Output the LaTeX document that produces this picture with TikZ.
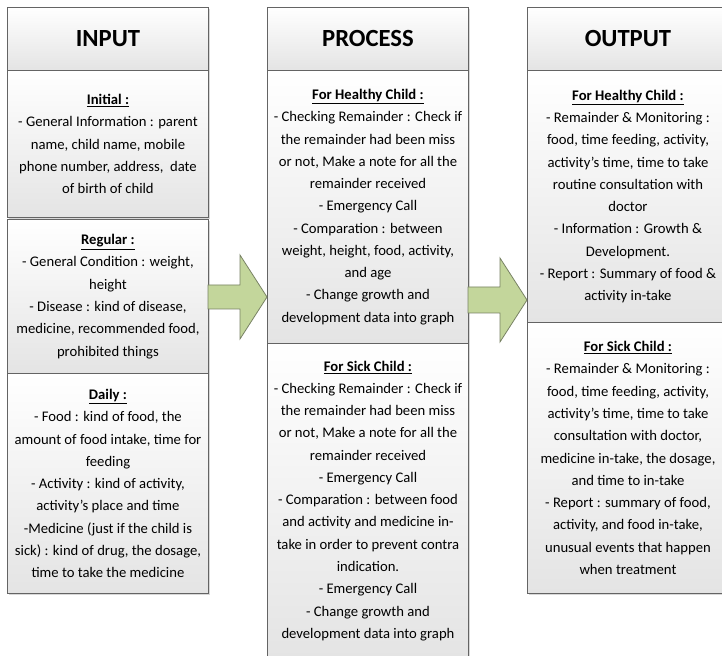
\documentclass[tikz,border=0pt]{standalone}
\usepackage{xcolor}
\usepackage{fontspec}
\setmainfont{Carlito}
\usepackage{tikz}
\usetikzlibrary{shadows}

\definecolor{boxline}{RGB}{100,100,100}
\definecolor{boxgray}{RGB}{228,228,228}
\definecolor{arrowgreen}{RGB}{195,214,155}
\definecolor{arrowline}{RGB}{120,130,100}

\tikzset{
  colbox/.style={draw=boxline, line width=0.7pt, top color=white, bottom color=boxgray,
    minimum width=150.75pt, inner sep=0pt, anchor=north west, align=center,
    font=\fontsize{11}{16.7}\selectfont,
    drop shadow={shadow xshift=1.3pt, shadow yshift=-1.3pt, fill=black!30}},
  headbox/.style={colbox, minimum height=47.25pt, font=\bfseries\fontsize{18.5}{22}\selectfont},
  greenarrow/.style={draw=arrowline, fill=arrowgreen, line width=0.6pt, line join=miter}
}

\newcommand{\boxtitle}[1]{\textbf{\underline{#1}}}

\begin{document}
\begin{tikzpicture}[x=0.75pt,y=-0.75pt]
    \useasboundingbox (0,0) rectangle (722,656);
    \fill[white] (0,0) rectangle (722,656);
    \clip (0,0) rectangle (722,656);

    % input column
    \node[headbox] (inhead) at (7,7) {INPUT};
    \node[colbox, minimum height=110.25pt] (initial) at (7,70) {\boxtitle{Initial :}\\
      - General Information : parent\\ name, child name, mobile\\
      phone number, address,~ date\\ of birth of child};
    \node[colbox, minimum height=115.5pt] (regular) at (7,219) {\boxtitle{Regular :}\\
      - General Condition : weight,\\ height\\ - Disease : kind of disease,\\
      medicine, recommended food,\\ prohibited things};
    \node[colbox, minimum height=165pt] (daily) at (7,373) {\boxtitle{Daily :}\\
      - Food : kind of food, the\\ amount of food intake, time for\\ feeding\\
      - Activity : kind of activity,\\ activity's place and time\\
      -Medicine (just if the child is\\ sick) : kind of drug, the dosage,\\
      time to take the medicine};

    % process column
    \node[headbox] (prochead) at (267,7) {PROCESS};
    \node[colbox, minimum height=204.75pt] (prochealthy) at (267,70) {\boxtitle{For Healthy Child :}\\
      - Checking Remainder : Check if\\ the remainder had been miss\\
      or not, Make a note for all the\\ remainder received\\ - Emergency Call\\
      - Comparation : between\\ weight, height, food, activity,\\ and age\\
      - Change growth and\\ development data into graph};
    \node[colbox, minimum height=236pt] (procsick) at (267,343) {\boxtitle{For Sick Child :}\\
      - Checking Remainder : Check if\\ the remainder had been miss\\
      or not, Make a note for all the\\ remainder received\\ - Emergency Call\\
      - Comparation : between food\\ and activity and medicine in-\\
      take in order to prevent contra\\ indication.\\ - Emergency Call\\
      - Change growth and\\ development data into graph};

    % output column
    \node[headbox] (outhead) at (527,7) {OUTPUT};
    \node[colbox, minimum height=189pt] (outhealthy) at (527,70) {\boxtitle{For Healthy Child :}\\
      - Remainder \& Monitoring :\\ food, time feeding, activity,\\
      activity's time, time to take\\ routine consultation with\\ doctor\\
      - Information : Growth \&\\ Development.\\
      - Report : Summary of food \&\\ activity in-take};
    \node[colbox, minimum height=203.25pt] (outsick) at (527,322) {\boxtitle{For Sick Child :}\\
      - Remainder \& Monitoring :\\ food, time feeding, activity,\\
      activity's time, time to take\\ consultation with doctor,\\
      medicine in-take, the dosage,\\ and time to in-take\\
      - Report : summary of food,\\ activity, and food in-take,\\
      unusual events that happen\\ when treatment};

    % arrows
    \coordinate (tipA) at (267,297);
    \coordinate (tipB) at (527,300);
    \draw[greenarrow] (208,285) -- (240,285) -- (240,255) -- (tipA) -- (240,339) -- (240,309) -- (208,309) -- cycle;
    \draw[greenarrow] (468,287) -- (500,287) -- (500,258) -- (tipB) -- (500,342) -- (500,313) -- (468,313) -- cycle;
\end{tikzpicture}
\end{document}
